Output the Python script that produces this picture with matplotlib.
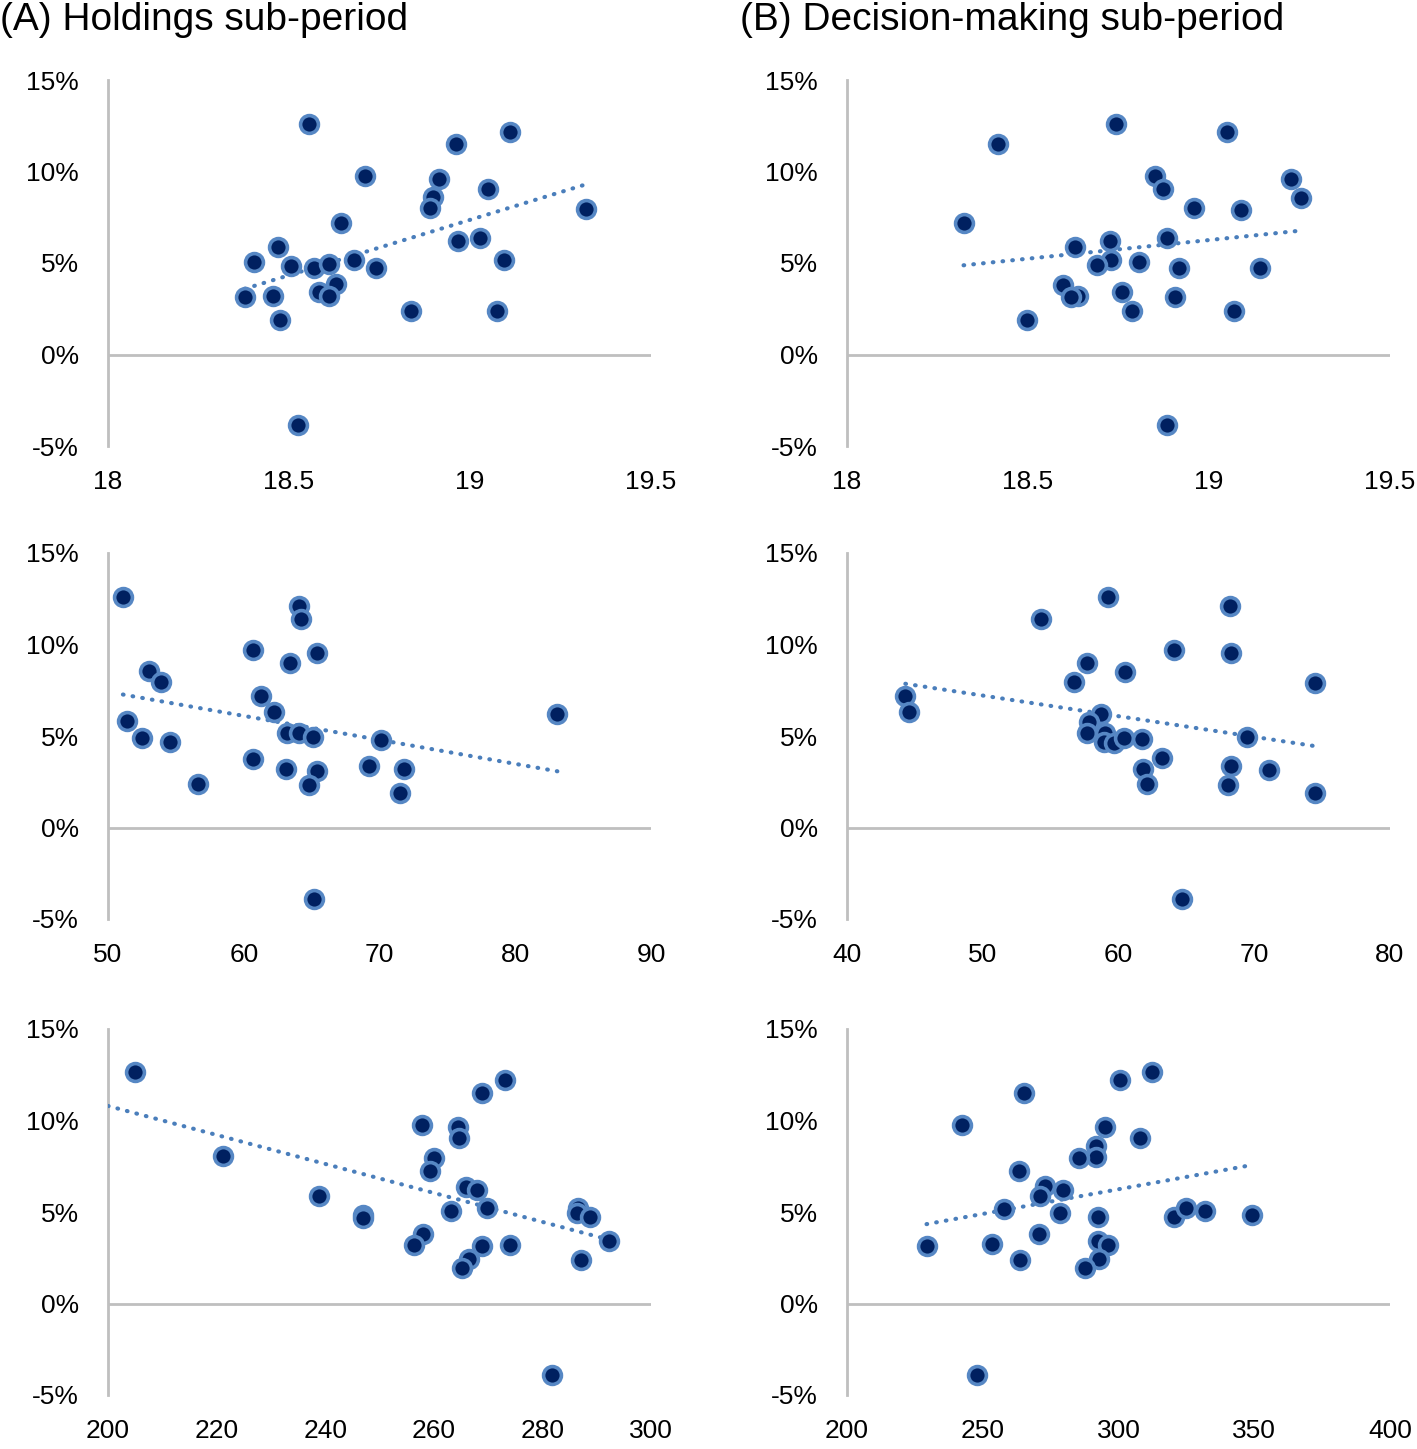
import matplotlib.pyplot as plt
import numpy as np

plt.rcParams['font.family'] = ['Liberation Sans', 'DejaVu Sans']

# (A) Holdings sub-period, row 1
a1_x = [18.554, 19.110, 18.962, 18.711, 18.915, 19.049, 18.897, 18.889, 19.320, 18.644,
        18.966, 19.028, 18.469, 18.402, 18.505, 18.569, 18.611, 18.680, 18.740, 19.095,
        18.631, 18.582, 18.611, 18.378, 18.457, 18.475, 18.838, 19.075, 18.524]
a1_y = [12.6, 12.17, 11.48, 9.74, 9.6, 9.05, 8.6, 8.01, 7.96, 7.19,
        6.19, 6.38, 5.87, 5.05, 4.86, 4.74, 4.95, 5.19, 4.70, 5.15,
        3.83, 3.42, 3.19, 3.13, 3.19, 1.91, 2.37, 2.40, -3.83]

# (B) Decision-making sub-period, row 1
b1_x = [18.742, 19.049, 18.416, 18.852, 19.227, 18.872, 19.255, 18.959, 19.089, 18.322,
        18.885, 18.727, 18.630, 18.730, 18.806, 18.691, 18.918, 19.140, 18.597, 18.638,
        18.620, 18.760, 18.905, 18.498, 18.786, 19.069, 18.883]
b1_y = [12.6, 12.15, 11.48, 9.74, 9.6, 9.05, 8.56, 8.01, 7.92, 7.19,
        6.38, 6.19, 5.87, 5.19, 5.05, 4.88, 4.70, 4.74, 3.79, 3.19,
        3.13, 3.42, 3.13, 1.91, 2.40, 2.37, -3.83]

# row 2
a2_x = [51.1, 64.1, 64.2, 60.7, 65.4, 63.4, 53.0, 53.9, 61.3, 62.2,
        83.1, 51.4, 52.5, 54.6, 63.2, 64.1, 65.1, 70.1, 60.7, 63.1,
        65.4, 69.2, 71.8, 56.6, 64.8, 71.5, 65.2]
a2_y = [12.59, 12.13, 11.42, 9.71, 9.56, 9.01, 8.56, 7.94, 7.19, 6.33,
        6.19, 5.82, 4.87, 4.69, 5.15, 5.18, 4.96, 4.78, 3.74, 3.19,
        3.10, 3.36, 3.18, 2.37, 2.32, 1.86, -3.91]

b2_x = [59.2, 68.2, 54.3, 64.1, 68.3, 57.7, 60.5, 56.7, 74.5, 44.3,
        44.6, 58.7, 57.8, 57.7, 59.0, 58.9, 59.7, 60.4, 61.7, 69.5,
        63.2, 61.8, 62.1, 68.3, 71.1, 68.1, 74.5, 64.7]
b2_y = [12.57, 12.13, 11.42, 9.71, 9.56, 9.01, 8.52, 7.97, 7.92, 7.19,
        6.33, 6.2, 5.78, 5.15, 5.18, 4.69, 4.63, 4.87, 4.82, 4.96,
        3.78, 3.18, 2.35, 3.36, 3.14, 2.32, 1.86, -3.91]

# row 3
a3_x = [205.0, 273.2, 268.8, 257.8, 264.5, 264.7, 260.1, 259.3, 221.2, 238.9,
        266.0, 267.9, 247.0, 246.9, 263.2, 269.8, 286.6, 286.4, 288.8, 292.3,
        258.0, 256.4, 268.8, 274.0, 266.5, 265.2, 287.1, 281.7]
a3_y = [12.63, 12.19, 11.48, 9.78, 9.62, 9.05, 7.97, 7.22, 8.08, 5.85,
        6.36, 6.22, 4.86, 4.68, 5.03, 5.21, 5.23, 4.94, 4.72, 3.44,
        3.80, 3.22, 3.16, 3.20, 2.43, 1.92, 2.38, -3.88]

b3_x = [312.2, 300.5, 265.1, 242.2, 294.9, 308.0, 291.8, 291.8, 285.4, 263.4,
        272.8, 279.7, 271.2, 258.0, 278.6, 292.6, 320.3, 325.0, 331.8, 349.2,
        270.9, 229.3, 253.4, 292.3, 296.2, 263.8, 292.8, 287.8, 248.0]
b3_y = [12.65, 12.19, 11.48, 9.78, 9.62, 9.07, 8.60, 8.01, 7.96, 7.22,
        6.40, 6.22, 5.85, 5.17, 4.95, 4.72, 4.72, 5.21, 5.05, 4.86,
        3.80, 3.15, 3.26, 3.44, 3.20, 2.38, 2.43, 1.92, -3.88]

xticks_row1 = [18, 18.5, 19, 19.5]
xticks_a2 = [50, 60, 70, 80, 90]
xticks_b2 = [40, 50, 60, 70, 80]
xticks_a3 = [200, 220, 240, 260, 280, 300]
xticks_b3 = [200, 250, 300, 350, 400]

yticks = [-5, 0, 5, 10, 15]
ytick_labels = ['-5%', '0%', '5%', '10%', '15%']

# trend line start (None = first data point); A3's runs back to the axis
panels = [
    (a1_x, a1_y, xticks_row1, 0, 0, None),
    (b1_x, b1_y, xticks_row1, 0, 1, None),
    (a2_x, a2_y, xticks_a2, 1, 0, None),
    (b2_x, b2_y, xticks_b2, 1, 1, None),
    (a3_x, a3_y, xticks_a3, 2, 0, 200),
    (b3_x, b3_y, xticks_b3, 2, 1, None),
]

W, H = 1417, 1449
fig = plt.figure(figsize=(W / 100, H / 100), dpi=100)

row_top = [80, 553, 1029]
col_left = [108, 847]
ax_w, ax_h = 543, 366

grey = '#bfbfbf'
fill = '#002060'
edge = '#5687c4'
trend = '#4a7ebb'

for x, y, xt, r, c, t0 in panels:
    ax = fig.add_axes([col_left[c] / W, 1 - (row_top[r] + ax_h) / H, ax_w / W, ax_h / H])
    x = np.array(x)
    y = np.array(y)
    k, b = np.polyfit(x, y, 1)
    xs = np.linspace(x.min() if t0 is None else t0, x.max(), 50)
    ax.plot(xs, k * xs + b, linestyle=(0, (0.15, 2.2)), color=trend, lw=3.0,
            dash_capstyle='round', zorder=3)
    ax.scatter(x, y, s=165, color=fill, edgecolor=edge, linewidth=2.6, zorder=4)
    ax.axhline(0, color=grey, lw=2, zorder=1)
    ax.set_xlim(xt[0], xt[-1])
    ax.set_ylim(-5, 15)
    ax.set_xticks(xt)
    ax.set_xticklabels([f'{v:g}' for v in xt])
    ax.set_yticks(yticks)
    ax.set_yticklabels(ytick_labels)
    for s in ['top', 'right', 'bottom']:
        ax.spines[s].set_visible(False)
    ax.spines['left'].set_color(grey)
    ax.spines['left'].set_linewidth(2)
    ax.tick_params(length=0, labelsize=19, colors='black')
    ax.tick_params(axis='x', pad=17)
    ax.tick_params(axis='y', pad=21)
    ax.patch.set_alpha(0)

fig.text(0 / W, 1 - 20 / H, '(A) Holdings sub-period', fontsize=28, va='center', ha='left')
fig.text(740 / W, 1 - 20 / H, '(B) Decision-making sub-period', fontsize=28, va='center', ha='left')

fig.savefig('out.png', dpi=100)
